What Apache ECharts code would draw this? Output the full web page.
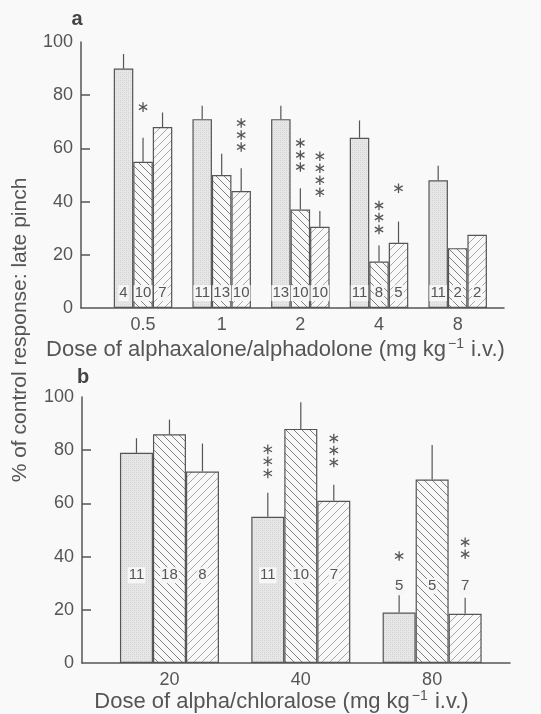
<!DOCTYPE html>
<html><head><meta charset="utf-8">
<script src="https://cdn.jsdelivr.net/npm/echarts@6/dist/echarts.min.js"></script>
<style>html,body{margin:0;padding:0;background:#f9f9f9}#c{width:541px;height:714px}</style>
</head><body><div id="c"></div>
<script>
// ---------- data ----------
const catsA = ['0.5', '1', '2', '4', '8'];
const meanA1 = [90, 71, 71, 64, 48];
const errA1 = [5.5, 5, 5, 6.5, 5.5];
const nA1 = [4, 11, 13, 11, 11];
const meanA2 = [55, 50, 37, 17.5, 22.5];
const errA2 = [9, 8, 8, 6, 0];
const nA2 = [10, 13, 10, 8, 2];
const meanA3 = [68, 44, 30.5, 24.5, 27.5];
const errA3 = [5.5, 8.5, 6, 8, 0];
const nA3 = [7, 10, 10, 5, 2];
const nLabelYA = [5.6, 5.6, 5.6, 5.6, 5.6];
const starsA2 = [1, 0, 3, 3, 0];
const starYA2 = [75.5, 0, 53, 29.5, 0];
const starsA3 = [0, 3, 4, 1, 0];
const starYA3 = [0, 60.5, 43.5, 45, 0];

const catsB = ['20', '40', '80'];
const meanB1 = [79, 55, 19];
const errB1 = [5.5, 9, 6.5];
const nB1 = [11, 11, 5];
const meanB2 = [86, 88, 69];
const errB2 = [5.5, 10, 13];
const nB2 = [18, 10, 5];
const meanB3 = [72, 61, 18.5];
const errB3 = [10.5, 6, 6];
const nB3 = [8, 7, 7];
const nLabelYB = [33, 33, 29];
const starsB1 = [0, 3, 1];
const starYB1 = [0, 71.3, 40.2];
const starsB3 = [0, 3, 2];
const starYB3 = [0, 75.4, 40.9];

const yTicks = [0, 20, 40, 60, 80, 100];
const yInnerTicks = [20, 40, 60, 80];

// ---------- styles ----------
const INK = '#555';
const FONT = '"Liberation Sans", Arial, sans-serif';

function stipple() {
  const c = document.createElement('canvas'); c.width = 4; c.height = 4;
  const g = c.getContext('2d');
  g.fillStyle = '#e6e6e6'; g.fillRect(0, 0, 4, 4);
  g.fillStyle = '#d3d3d3'; g.fillRect(0, 0, 1, 1); g.fillRect(2, 2, 1, 1);
  g.fillStyle = '#dcdcdc'; g.fillRect(2, 0, 1, 1); g.fillRect(0, 2, 1, 1);
  return c;
}
function hatch(forward, color, step) {
  const c = document.createElement('canvas'); c.width = step; c.height = step;
  const g = c.getContext('2d');
  g.fillStyle = '#f8f8f8'; g.fillRect(0, 0, step, step);
  g.strokeStyle = color; g.lineWidth = 1; g.beginPath();
  if (forward) {
    g.moveTo(0, step); g.lineTo(step, 0);
    g.moveTo(-1, 1); g.lineTo(1, -1);
    g.moveTo(step - 1, step + 1); g.lineTo(step + 1, step - 1);
  } else {
    g.moveTo(0, 0); g.lineTo(step, step);
    g.moveTo(step - 1, -1); g.lineTo(step + 1, 1);
    g.moveTo(-1, step - 1); g.lineTo(1, step + 1);
  }
  g.stroke();
  return c;
}
const fill1 = { image: stipple(), repeat: 'repeat' };
const fill2 = { image: hatch(false, '#808080', 8), repeat: 'repeat' };
const fill3 = { image: hatch(true, '#a8a8a8', 8), repeat: 'repeat' };
const fills = [fill1, fill2, fill3];

const BW_A = 19.5, BW_B = 33;

function barSeries(xi, data, k, bw) {
  return {
    type: 'bar', xAxisIndex: xi, yAxisIndex: xi, data: data, barWidth: bw, barGap: '0%',
    itemStyle: { color: fills[k], borderColor: INK, borderWidth: 1.2 },
    silent: true, animation: false
  };
}
function errSeries(xi, means, errs, k, bw) {
  return {
    type: 'custom', xAxisIndex: xi, yAxisIndex: xi, z: 5, animation: false, silent: true,
    data: means.map((m, i) => [i, m, errs[i]]),
    renderItem: function (params, api) {
      const e = api.value(2);
      if (!e) return null;
      const ci = api.value(0), v = api.value(1);
      const p0 = api.coord([ci, v]);
      const p1 = api.coord([ci, v + e]);
      const x = p0[0] + (k - 1) * bw;
      return { type: 'line', shape: { x1: x, y1: p0[1], x2: x, y2: p1[1] }, style: { stroke: INK, lineWidth: 1.2 } };
    }
  };
}
function nSeries(xi, ns, ys, k, bw) {
  return {
    type: 'custom', xAxisIndex: xi, yAxisIndex: xi, z: 6, animation: false, silent: true,
    data: ns.map((n, i) => [i, ys[i], n]),
    renderItem: function (params, api) {
      const p = api.coord([api.value(0), api.value(1)]);
      return {
        type: 'text', x: p[0] + (k - 1) * bw, y: p[1],
        style: { text: String(api.value(2)), fill: INK, font: '15px ' + FONT, align: 'center', verticalAlign: 'middle',
          backgroundColor: '#f6f6f6', padding: [1, 1, 0, 1] }
      };
    }
  };
}
function starSeries(xi, counts, ys, k, bw) {
  return {
    type: 'custom', xAxisIndex: xi, yAxisIndex: xi, z: 6, animation: false, silent: true,
    data: counts.map((c, i) => [i, ys[i], c]),
    renderItem: function (params, api) {
      const cnt = api.value(2);
      if (!cnt) return null;
      const p = api.coord([api.value(0), api.value(1)]);
      const cx = p[0] + (k - 1) * bw;
      const kids = [];
      const r = 4.8;
      for (let s = 0; s < cnt; s++) {
        const cy = p[1] - s * 12;
        [90, 30, 150].forEach(function (deg) {
          const a = deg * Math.PI / 180;
          kids.push({ type: 'line', shape: { x1: cx - r * Math.cos(a), y1: cy - r * Math.sin(a), x2: cx + r * Math.cos(a), y2: cy + r * Math.sin(a) },
            style: { stroke: INK, lineWidth: 1.3 } });
        });
      }
      return { type: 'group', children: kids };
    }
  };
}

const axisText = { color: INK, fontSize: 18, fontFamily: FONT };

function frameX(gi) {
  return { type: 'value', gridIndex: gi, min: 0, max: 1, axisLine: { show: true, lineStyle: { color: INK, width: 1.5 } },
    axisTick: { show: false }, axisLabel: { show: false }, splitLine: { show: false } };
}
function frameY(gi) {
  return { type: 'value', gridIndex: gi, min: 0, max: 100, interval: 20,
    axisLine: { show: true, lineStyle: { color: INK, width: 1.5 } },
    axisTick: { show: true, inside: true, length: 9, customValues: yInnerTicks, lineStyle: { color: INK, width: 1.5 } },
    axisLabel: Object.assign({ margin: 8, customValues: yTicks }, axisText), splitLine: { show: false } };
}
function catX(gi, cats) {
  return { type: 'category', gridIndex: gi, data: cats, axisLine: { show: false }, axisTick: { show: false },
    axisLabel: Object.assign({ margin: 8 }, axisText) };
}
function hidY(gi) {
  return { type: 'value', gridIndex: gi, min: 0, max: 100, show: false };
}

const titleRich = { sup: { fontSize: 14, fontFamily: FONT, fill: INK, padding: [0, 1, 11, 2] } };

const option = {
  backgroundColor: '#f9f9f9',
  animation: false,
  grid: [
    { left: 81, right: 37, top: 42, height: 266 },
    { left: 103.7, right: 44, top: 42, height: 266 },
    { left: 82, right: 31, top: 397, height: 266 },
    { left: 103.8, right: 43.2, top: 397, height: 266 }
  ],
  xAxis: [frameX(0), catX(1, catsA), frameX(2), catX(3, catsB)],
  yAxis: [frameY(0), hidY(1), frameY(2), hidY(3)],
  series: [
    barSeries(1, meanA1, 0, BW_A), barSeries(1, meanA2, 1, BW_A), barSeries(1, meanA3, 2, BW_A),
    errSeries(1, meanA1, errA1, 0, BW_A), errSeries(1, meanA2, errA2, 1, BW_A), errSeries(1, meanA3, errA3, 2, BW_A),
    nSeries(1, nA1, nLabelYA, 0, BW_A), nSeries(1, nA2, nLabelYA, 1, BW_A), nSeries(1, nA3, nLabelYA, 2, BW_A),
    starSeries(1, starsA2, starYA2, 1, BW_A), starSeries(1, starsA3, starYA3, 2, BW_A),

    barSeries(3, meanB1, 0, BW_B), barSeries(3, meanB2, 1, BW_B), barSeries(3, meanB3, 2, BW_B),
    errSeries(3, meanB1, errB1, 0, BW_B), errSeries(3, meanB2, errB2, 1, BW_B), errSeries(3, meanB3, errB3, 2, BW_B),
    nSeries(3, nB1, nLabelYB, 0, BW_B), nSeries(3, nB2, nLabelYB, 1, BW_B), nSeries(3, nB3, nLabelYB, 2, BW_B),
    starSeries(3, starsB1, starYB1, 0, BW_B), starSeries(3, starsB3, starYB3, 2, BW_B)
  ],
  graphic: [
    { type: 'text', x: 77, y: 19, style: { text: 'a', font: 'bold 20px ' + FONT, fill: '#444', align: 'center', verticalAlign: 'middle' } },
    { type: 'text', x: 83, y: 377, style: { text: 'b', font: 'bold 20px ' + FONT, fill: '#444', align: 'center', verticalAlign: 'middle' } },
    { type: 'text', x: 20, y: 330, rotation: Math.PI / 2,
      style: { text: '% of control response: late pinch', font: '21px ' + FONT, fill: INK, align: 'center', verticalAlign: 'middle' } },
    { type: 'text', x: 275.5, y: 350,
      style: { text: 'Dose of alphaxalone/alphadolone (mg kg{sup|−1} i.v.)', font: '22px ' + FONT, fill: INK, align: 'center', verticalAlign: 'middle',
        rich: titleRich } },
    { type: 'text', x: 281.5, y: 702,
      style: { text: 'Dose of alpha/chloralose (mg kg{sup|−1} i.v.)', font: '22px ' + FONT, fill: INK, align: 'center', verticalAlign: 'middle',
        rich: titleRich } }
  ]
};

const chart = echarts.init(document.getElementById('c'), null, { renderer: 'canvas' });
chart.setOption(option);
</script>
</body></html>
